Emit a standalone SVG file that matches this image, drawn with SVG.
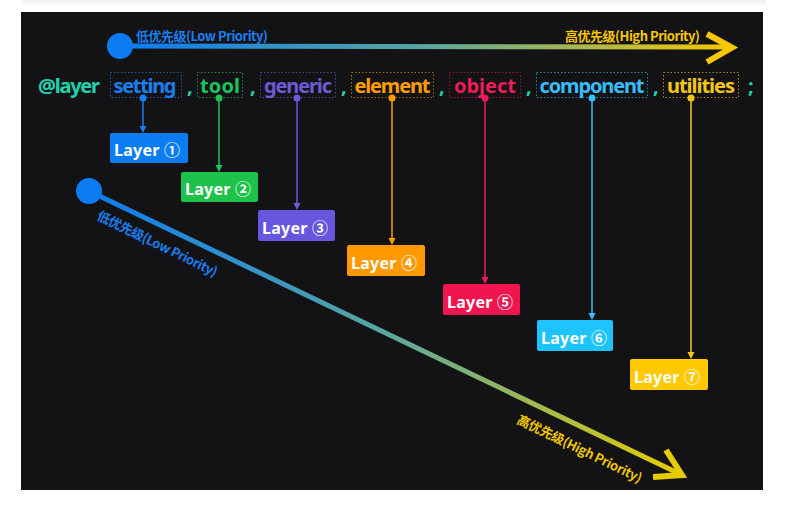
<svg xmlns="http://www.w3.org/2000/svg" width="789" height="509" viewBox="0 0 789 509">
<defs>
<style>
.w{font-family:"Noto Sans","Liberation Sans",sans-serif;font-weight:700;font-size:20px}
.lbl{font-family:"Noto Sans","Noto Sans CJK SC",sans-serif;font-weight:700;font-size:16px;fill:#ffffff}
.pri{font-family:"Noto Sans CJK SC","Noto Sans",sans-serif;font-weight:700;font-size:13px}
.box{fill:none;stroke-width:1;stroke-dasharray:1.5 2}
.conn{stroke-width:1.5;fill:none}
.teal{fill:#1fd3ae}
</style>
<linearGradient id="shadow" x1="0" y1="0" x2="0" y2="1">
<stop offset="0" stop-color="#eeeeee"/><stop offset="1" stop-color="#ffffff"/>
</linearGradient>
<linearGradient id="gTop" gradientUnits="userSpaceOnUse" x1="120" y1="0" x2="730" y2="0">
<stop offset="0" stop-color="#0b7cf2"/><stop offset="0.5" stop-color="#5aa6a0"/><stop offset="1" stop-color="#f7c800"/>
</linearGradient>
<linearGradient id="gDiag" gradientUnits="userSpaceOnUse" x1="89" y1="191" x2="683" y2="475">
<stop offset="0" stop-color="#0b7cf2"/><stop offset="0.5" stop-color="#5aa6a0"/><stop offset="1" stop-color="#e9cc00"/>
</linearGradient>
</defs>
<rect x="0" y="0" width="789" height="509" fill="#ffffff"/>
<rect x="22" y="0" width="745" height="6" fill="url(#shadow)" rx="3"/>
<rect x="21" y="12" width="742" height="478" fill="#131315"/>

<g id="priority-top">
<line x1="120" y1="46" x2="729" y2="47" stroke="url(#gTop)" stroke-width="5"/>
<circle cx="120" cy="46" r="13" fill="#0b7cf2"/>
<polyline points="707,34 732,47.5 707,62" fill="none" stroke="#f7c800" stroke-width="6"/>
<text class="pri" x="136" y="41" fill="#1a7ff0" textLength="132">低优先级(Low Priority)</text>
<text class="pri" x="565" y="41" fill="#f7c800" textLength="135">高优先级(High Priority)</text>
</g>

<g id="priority-diagonal">
<line x1="89" y1="191" x2="680" y2="474" stroke="url(#gDiag)" stroke-width="5"/>
<circle cx="89" cy="191" r="13" fill="#0b7cf2"/>
<polyline points="666,450 682,475 653,477" fill="none" stroke="#e9cc00" stroke-width="6"/>
<text class="pri" transform="translate(96 219) rotate(26)" fill="#1a7ff0" textLength="132">低优先级(Low Priority)</text>
<text class="pri" transform="translate(516 423) rotate(26)" fill="#f0c400" textLength="137">高优先级(High Priority)</text>
</g>

<g id="declaration">
<text class="w teal" x="38" y="93" textLength="62">@layer</text>
<text class="w teal" x="187" y="93">,</text>
<text class="w teal" x="250" y="93">,</text>
<text class="w teal" x="341" y="93">,</text>
<text class="w teal" x="439" y="93">,</text>
<text class="w teal" x="526" y="93">,</text>
<text class="w teal" x="653" y="93">,</text>
<text class="w teal" x="748" y="93">;</text>
</g>

<g id="word-setting">
<rect class="box" x="110.5" y="72.5" width="71" height="25" stroke="#1b5fa8"/>
<text class="w" x="145" y="93" text-anchor="middle" fill="#1a7ff0" textLength="63">setting</text>
</g>
<g id="word-tool">
<rect class="box" x="197.5" y="72.5" width="45" height="25" stroke="#1a8a45"/>
<text class="w" x="220" y="93" text-anchor="middle" fill="#1ec25a" textLength="40">tool</text>
</g>
<g id="word-generic">
<rect class="box" x="260.5" y="72.5" width="75" height="25" stroke="#4e4596"/>
<text class="w" x="298" y="93" text-anchor="middle" fill="#6b5bd6" textLength="68">generic</text>
</g>
<g id="word-element">
<rect class="box" x="351.5" y="72.5" width="82" height="25" stroke="#a96d0a"/>
<text class="w" x="392.5" y="93" text-anchor="middle" fill="#ff9d00" textLength="76">element</text>
</g>
<g id="word-object">
<rect class="box" x="449.5" y="72.5" width="71" height="25" stroke="#9c1743"/>
<text class="w" x="485" y="93" text-anchor="middle" fill="#ec1b5a" textLength="62">object</text>
</g>
<g id="word-component">
<rect class="box" x="536.5" y="72.5" width="111" height="25" stroke="#2883a8"/>
<text class="w" x="592" y="93" text-anchor="middle" fill="#38bdf8" textLength="105">component</text>
</g>
<g id="word-utilities">
<rect class="box" x="663.5" y="72.5" width="75" height="25" stroke="#a88a14"/>
<text class="w" x="701" y="93" text-anchor="middle" fill="#f5c518" textLength="68">utilities</text>
</g>

<g id="connectors">
<circle cx="143" cy="98" r="3.5" fill="#1a7ff0"/>
<line class="conn" x1="143" y1="98" x2="143" y2="127" stroke="#1a7ff0"/>
<polygon points="139.5,126 146.5,126 143,133" fill="#1a7ff0"/>
<circle cx="219" cy="98" r="3.5" fill="#1ec25a"/>
<line class="conn" x1="219" y1="98" x2="219" y2="166" stroke="#1ec25a"/>
<polygon points="215.5,165 222.5,165 219,172" fill="#1ec25a"/>
<circle cx="297" cy="98" r="3.5" fill="#6b5bd6"/>
<line class="conn" x1="297" y1="98" x2="297" y2="204" stroke="#6b5bd6"/>
<polygon points="293.5,203 300.5,203 297,210" fill="#6b5bd6"/>
<circle cx="392" cy="98" r="3.5" fill="#ff9d00"/>
<line class="conn" x1="392" y1="98" x2="392" y2="239" stroke="#ff9d00"/>
<polygon points="388.5,238 395.5,238 392,245" fill="#ff9d00"/>
<circle cx="485" cy="98" r="3.5" fill="#ec1b5a"/>
<line class="conn" x1="485" y1="98" x2="485" y2="278" stroke="#ec1b5a"/>
<polygon points="481.5,277 488.5,277 485,284" fill="#ec1b5a"/>
<circle cx="592" cy="98" r="3.5" fill="#38bdf8"/>
<line class="conn" x1="592" y1="98" x2="592" y2="314" stroke="#38bdf8"/>
<polygon points="588.5,313 595.5,313 592,320" fill="#38bdf8"/>
<circle cx="691" cy="98" r="3.5" fill="#f5c518"/>
<line class="conn" x1="691" y1="98" x2="691" y2="353" stroke="#f5c518"/>
<polygon points="687.5,352 694.5,352 691,359" fill="#f5c518"/>
</g>

<g id="layer-1">
<rect x="110" y="133" width="78" height="30" rx="2" fill="#0b7cf2"/>
<text class="lbl" x="114" y="156" textLength="66">Layer ①</text>
</g>
<g id="layer-2">
<rect x="181" y="172" width="77" height="30" rx="2" fill="#1ec24a"/>
<text class="lbl" x="185" y="195" textLength="66">Layer ②</text>
</g>
<g id="layer-3">
<rect x="258" y="210" width="77" height="31" rx="2" fill="#6655dd"/>
<text class="lbl" x="262" y="234" textLength="66">Layer ③</text>
</g>
<g id="layer-4">
<rect x="347" y="245" width="78" height="31" rx="2" fill="#ff9900"/>
<text class="lbl" x="351" y="269" textLength="66">Layer ④</text>
</g>
<g id="layer-5">
<rect x="443" y="284" width="77" height="31" rx="2" fill="#f0144f"/>
<text class="lbl" x="447" y="308" textLength="66">Layer ⑤</text>
</g>
<g id="layer-6">
<rect x="537" y="320" width="76" height="31" rx="2" fill="#1ec4ff"/>
<text class="lbl" x="541" y="344" textLength="66">Layer ⑥</text>
</g>
<g id="layer-7">
<rect x="630" y="359" width="78" height="31" rx="2" fill="#ffc800"/>
<text class="lbl" x="634" y="383" textLength="66">Layer ⑦</text>
</g>
</svg>
